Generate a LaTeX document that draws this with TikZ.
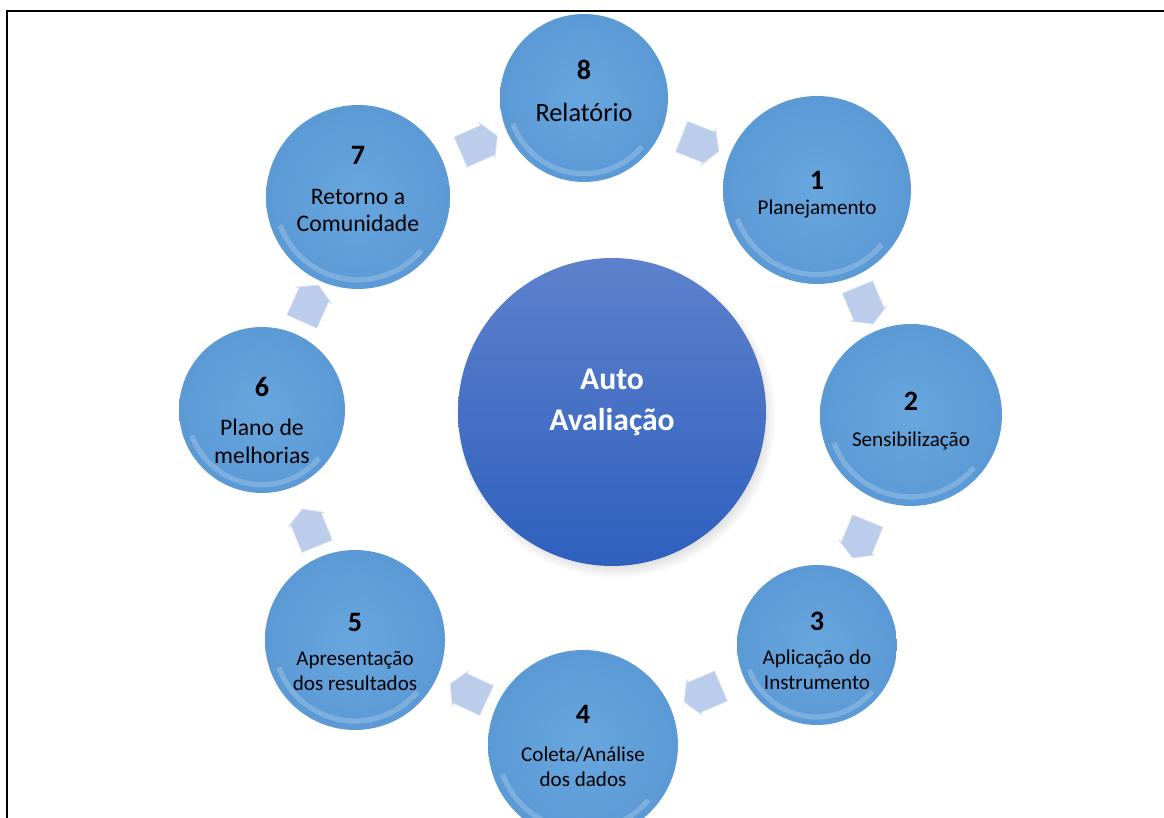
\documentclass[tikz,border=0pt]{standalone}
\usepackage{fontspec}
\setmainfont{Carlito}
\usetikzlibrary{shapes.arrows,shadows,calc}

\definecolor{bubCore}{RGB}{104,166,222}
\definecolor{bubMid}{RGB}{89,152,212}
\definecolor{bubEdge}{RGB}{55,115,188}
\definecolor{bubRim}{RGB}{175,214,244}
\definecolor{hubTop}{RGB}{93,129,204}
\definecolor{hubBot}{RGB}{47,96,190}
\definecolor{arrowFill}{RGB}{188,205,235}

\pgfdeclareradialshading{bubble}{\pgfpointorigin}{color(0bp)=(bubCore); color(28bp)=(bubMid); color(44bp)=(bubMid); color(48.5bp)=(bubEdge); color(50bp)=(bubRim)}

\tikzset{
  stage/.style={circle, minimum size=#1, inner sep=0pt, align=center, shade, shading=bubble,
    font=\fontsize{12}{14.4}\selectfont},
  hub/.style={circle, minimum size=6.16cm, inner sep=0pt, top color=hubTop, bottom color=hubBot,
    circular drop shadow={shadow xshift=2pt, shadow yshift=-3pt, shadow scale=1.04, opacity=.45},
    text=white, align=center, text depth=14pt, font=\fontsize{18}{23}\selectfont\bfseries},
  blockarrow/.style={single arrow, fill=arrowFill, draw=arrowFill!60!white, line width=0.4pt,
    minimum height=0.8cm, inner xsep=0.18cm, inner ysep=0.32cm, single arrow head extend=0.06cm,
    single arrow tip angle=120},
}
% number on top of a stage, #1 = height of its line
\newcommand{\stepno}[2][11.5pt]{{\fontsize{16}{19}\selectfont\bfseries\rule{0pt}{#1}#2}}

\begin{document}
\begin{tikzpicture}[x=0.02cm, y=0.02cm]
  \useasboundingbox (0,0) rectangle (1164,818);
  \clip (0,0) rectangle (1164,818);

  % centre
  \node[hub] (hub) at (612,406) {Auto\\Avaliação};

  % stages of the cycle
  \node[stage=3.36cm, text depth=9pt, font=\fontsize{15}{18}\selectfont] (c8) at (584,720) {\stepno{8}\\[6pt]Relatório};
  \node[stage=3.76cm] (c1) at (817,628) {\stepno[15.5pt]{1}\\[0pt]Planejamento};
  \node[stage=3.64cm] (c2) at (911,403) {\stepno[17pt]{2}\\[6pt]Sensibilização};
  \node[stage=3.2cm] (c3) at (817,173) {\stepno[17pt]{3}\\[5pt]Aplicação do\\Instrumento};
  \node[stage=3.8cm] (c4) at (583,73) {\stepno{4}\\[7pt]Coleta/Análise\\dos dados};
  \node[stage=3.6cm] (c5) at (355,178) {\stepno[24pt]{5}\\[5pt]Apresentação\\dos resultados};
  \node[stage=3.32cm, font=\fontsize{13.5}{15.5}\selectfont] (c6) at (262,408) {\stepno[22.5pt]{6}\\[7pt]Plano de\\melhorias};
  \node[stage=3.68cm, text depth=10pt, font=\fontsize{13.5}{15.5}\selectfont] (c7) at (358,621) {\stepno{7}\\[7pt]Retorno a\\Comunidade};

  % glossy highlight
  \foreach \n/\r in {c8/84,c1/94,c2/91,c3/80,c4/95,c5/90,c6/83,c7/92}
    \draw[white, opacity=.2, line width=3pt] ($(\n)+(200:{0.9*\r*0.02cm})$)
      arc[start angle=200, end angle=320, radius={0.9*\r*0.02cm}];

  % block arrows
  \foreach \a/\b/\p in {c8/c1/.5,c1/c2/.45,c2/c3/.5,c3/c4/.5,c4/c5/.4,c5/c6/.35,c6/c7/.5,c7/c8/.5}
    \path (\a) -- node[blockarrow, sloped, allow upside down, pos=\p] {} (\b);

  % frame
  \draw[line width=1.2pt] (7,0) -- (7,807) -- (1164,807);
\end{tikzpicture}
\end{document}
